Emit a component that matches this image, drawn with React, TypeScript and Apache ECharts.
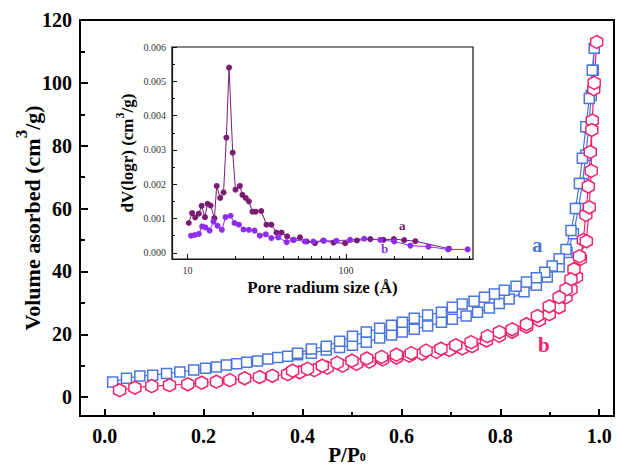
import React, { useEffect, useRef } from 'react';
import * as echarts from 'echarts';

const SERIF = '"Liberation Serif", "Times New Roman", serif';

// Main plot ticks
const mainXTicks = [0, 0.2, 0.4, 0.6, 0.8, 1.0];
const mainXMinor = [0.1, 0.3, 0.5, 0.7, 0.9];
const mainYTicks = [0, 20, 40, 60, 80, 100, 120];
const mainYMinor = [10, 30, 50, 70, 90, 110];

// Inset ticks
const insetYTicks = [0, 0.001, 0.002, 0.003, 0.004, 0.005, 0.006];
const insetYMinor = [0.0005, 0.0015, 0.0025, 0.0035, 0.0045, 0.0055];
const insetXMajor = [10, 100];
const insetXMinor = [20, 30, 40, 50, 60, 70, 80, 90, 200, 300, 400, 500, 600];

// Sample a (blue squares): adsorption then desorption branch
const blueAdsorption: [number, number][] = [
  [0.016, 4.8], [0.044, 6.0], [0.071, 6.7], [0.097, 7.0], [0.125, 7.5], [0.152, 8.0],
  [0.18, 8.6], [0.204, 9.2], [0.226, 9.6], [0.246, 10.2], [0.267, 10.6], [0.287, 11.1],
  [0.309, 11.5], [0.33, 12.1], [0.35, 12.6], [0.37, 13.0], [0.39, 13.5], [0.418, 14.0],
  [0.448, 15.0], [0.475, 15.8], [0.501, 16.5], [0.529, 17.5], [0.556, 18.8], [0.58, 19.8],
  [0.602, 20.7], [0.626, 21.6], [0.653, 22.6], [0.681, 23.8], [0.703, 24.8], [0.731, 25.8],
  [0.754, 27.0], [0.778, 28.4], [0.798, 29.8], [0.818, 31.2], [0.848, 33.5], [0.873, 35.6],
  [0.895, 38.2], [0.919, 41.5], [0.935, 46], [0.948, 52], [0.958, 60], [0.966, 68],
  [0.973, 77], [0.979, 86], [0.984, 96], [0.988, 104], [0.99, 111],
];
const blueDesorption: [number, number][] = [
  [0.986, 104], [0.98, 95], [0.973, 86], [0.966, 76], [0.96, 68], [0.952, 60], [0.943, 53],
  [0.933, 47], [0.919, 44], [0.905, 41.7], [0.89, 39.7], [0.873, 38.0], [0.853, 36.6],
  [0.832, 35.3], [0.808, 34.0], [0.788, 32.8], [0.768, 31.8], [0.747, 30.5], [0.723, 29.6],
  [0.703, 28.6], [0.681, 27.0], [0.653, 26.1], [0.626, 25.1], [0.602, 23.8], [0.58, 22.9],
  [0.556, 21.9], [0.529, 20.7], [0.501, 19.4], [0.475, 17.8], [0.448, 16.2], [0.418, 15.3],
  [0.39, 14.0],
];

// Sample b (pink hexagons)
const pinkAdsorption: [number, number][] = [
  [0.03, 2.2], [0.061, 3.0], [0.095, 3.5], [0.131, 3.8], [0.168, 4.1], [0.196, 4.6],
  [0.226, 4.9], [0.253, 5.4], [0.283, 6.0], [0.313, 6.4], [0.339, 6.8], [0.37, 7.3],
  [0.394, 7.9], [0.424, 8.6], [0.45, 9.4], [0.481, 10.0], [0.509, 10.6], [0.535, 11.3],
  [0.562, 12.0], [0.59, 12.6], [0.616, 13.2], [0.642, 13.8], [0.671, 14.4], [0.697, 15.0],
  [0.723, 15.5], [0.743, 16.2], [0.772, 18.0], [0.798, 19.5], [0.824, 20.8], [0.853, 22.4],
  [0.879, 24.5], [0.899, 26.4], [0.919, 28.6], [0.933, 31.8], [0.943, 34.3], [0.954, 38.2],
  [0.962, 44], [0.968, 50], [0.973, 58], [0.978, 67], [0.982, 78], [0.986, 88],
  [0.989, 98], [0.995, 113],
];
const pinkDesorption: [number, number][] = [
  [0.99, 100], [0.985, 85], [0.984, 72], [0.98, 60.4], [0.974, 49.6], [0.96, 44.8],
  [0.949, 40.7], [0.943, 37.5], [0.933, 34.3], [0.919, 31.8], [0.899, 28.9], [0.875, 25.8],
  [0.853, 23.2], [0.824, 21.6], [0.798, 20.7], [0.774, 19.4], [0.741, 17.5], [0.71, 16.5],
  [0.68, 15.4], [0.65, 14.8], [0.62, 14.0], [0.59, 13.5], [0.56, 12.8], [0.53, 12.3],
  [0.5, 11.6], [0.47, 10.9], [0.44, 10.0], [0.41, 9.0], [0.38, 8.4],
];

// Inset: pore size distribution
const poreA: [number, number][] = [
  [10.2, 0.00087], [10.7, 0.00116], [11.2, 0.00103], [11.8, 0.00114], [12.3, 0.00137],
  [12.9, 0.00104], [13.4, 0.00143], [14.0, 0.00138], [14.8, 0.00101], [15.3, 0.00195],
  [16.1, 0.0016], [16.9, 0.00176], [17.6, 0.00336], [18.3, 0.0054], [19.3, 0.00292],
  [20.1, 0.00184], [21.4, 0.00195], [22.2, 0.00169], [23.3, 0.0016], [24.4, 0.0015],
  [25.7, 0.0012], [26.9, 0.0012], [29.2, 0.00122], [31.5, 0.00082], [33.8, 0.00082],
  [36.4, 0.00059], [39.2, 0.00059], [42.5, 0.00048], [46.4, 0.00038], [51.2, 0.00045],
  [56.5, 0.00033], [63.6, 0.00028], [71.8, 0.00036], [83.3, 0.0003], [98.6, 0.00028],
  [117, 0.00036], [142, 0.0004], [172, 0.00038], [200, 0.0004], [232, 0.00037],
  [273, 0.00034], [444, 0.00012],
];
const poreB: [number, number][] = [
  [10.55, 0.0005], [11.1, 0.00052], [11.8, 0.00055], [12.4, 0.00077], [13.0, 0.00074],
  [13.8, 0.00065], [14.6, 0.00091], [15.5, 0.00079], [16.5, 0.00067], [17.4, 0.00104],
  [18.7, 0.00108], [19.8, 0.00087], [21.1, 0.00082], [22.6, 0.00068], [24.4, 0.00067],
  [26.5, 0.00065], [28.6, 0.0005], [31.2, 0.00054], [33.8, 0.00043], [37.4, 0.00045],
  [42.2, 0.00031], [46.9, 0.00038], [55, 0.00033], [62.1, 0.00033], [72.4, 0.00035],
  [87, 0.00035], [106, 0.00038], [130, 0.00041], [164, 0.00038], [201, 0.00033],
  [254, 0.00021], [330, 0.00018], [439, 0.0001], [583, 0.0001],
];

const BLUE = '#4a76dc';
const PINK = '#f2216f';
const PURPLE = '#7b1c74';
const VIOLET = '#8f2cf2';
const HEX = 'path://M0,-10 L8.66,-5 L8.66,5 L0,10 L-8.66,5 L-8.66,-5 Z';

export default function App() {
  const ref = useRef<HTMLDivElement>(null);

  useEffect(() => {
    if (!ref.current) return;
    const chart = echarts.init(ref.current, null, { renderer: 'svg' });

    const mainLabel = { fontFamily: SERIF, fontWeight: 'bold', fontSize: 20, color: '#000' };
    const insetLabel = { fontFamily: SERIF, fontSize: 10, color: '#333' };

    const option: any = {
      animation: false,
      backgroundColor: '#fff',
      grid: [
        { left: 80, top: 20, right: 4, bottom: 53, outerBoundsMode: 'none', containLabel: false, show: true, borderColor: '#000', borderWidth: 2, backgroundColor: 'transparent' },
        { left: 172, top: 47, right: 145, bottom: 210, outerBoundsMode: 'none', containLabel: false, show: true, borderColor: '#111', borderWidth: 1.2, backgroundColor: '#fff' },
      ],
      xAxis: [
        {
          type: 'value', gridIndex: 0, min: -0.05, max: 1.03,
          axisLine: { onZero: false, lineStyle: { color: '#000', width: 2 } },
          axisTick: { inside: true, length: 7, customValues: mainXTicks, lineStyle: { color: '#000', width: 2 } },
          axisLabel: { ...mainLabel, margin: 10, customValues: mainXTicks, formatter: (v: number) => v.toFixed(1) },
          splitLine: { show: false },
          name: '{t|P/P}{s|0}', nameLocation: 'middle', nameGap: 28, nameMoveOverlap: false,
          nameTextStyle: {
            rich: {
              t: { fontFamily: SERIF, fontWeight: 'bold', fontSize: 21, color: '#000', lineHeight: 19, verticalAlign: 'top' },
              s: { fontFamily: SERIF, fontWeight: 'bold', fontSize: 12, color: '#000', lineHeight: 11, verticalAlign: 'bottom' },
            },
          },
        },
        {
          type: 'value', gridIndex: 0, min: -0.05, max: 1.03, position: 'bottom',
          axisLine: { show: false, onZero: false },
          axisTick: { inside: true, length: 4, customValues: mainXMinor, lineStyle: { color: '#000', width: 2 } },
          axisLabel: { show: false }, splitLine: { show: false },
        },
        {
          type: 'log', logBase: 10, gridIndex: 1, min: 8, max: 630,
          axisLine: { onZero: false, lineStyle: { color: '#111', width: 1.2 } },
          axisTick: { inside: true, length: 5, customValues: insetXMajor, lineStyle: { color: '#111' } },
          axisLabel: { ...insetLabel, margin: 6, customValues: insetXMajor },
          splitLine: { show: false }, minorTick: { show: false },
          name: 'Pore radium size (Å)', nameLocation: 'middle', nameGap: 20, nameMoveOverlap: false,
          nameTextStyle: { fontFamily: SERIF, fontWeight: 'bold', fontSize: 17, color: '#000' },
        },
        {
          type: 'log', logBase: 10, gridIndex: 1, min: 8, max: 630, position: 'bottom',
          axisLine: { show: false, onZero: false },
          axisTick: { inside: true, length: 3, customValues: insetXMinor, lineStyle: { color: '#111' } },
          axisLabel: { show: false }, splitLine: { show: false },
        },
      ],
      yAxis: [
        {
          type: 'value', gridIndex: 0, min: -6, max: 120,
          axisLine: { onZero: false, lineStyle: { color: '#000', width: 2 } },
          axisTick: { inside: true, length: 8, customValues: mainYTicks, lineStyle: { color: '#000', width: 2 } },
          axisLabel: { ...mainLabel, margin: 8, customValues: mainYTicks },
          splitLine: { show: false },
          name: '{t|Volume asorbed (cm}{s|3}{t|/g)}', nameLocation: 'middle', nameGap: 37, nameRotate: 90, nameMoveOverlap: false,
          nameTextStyle: {
            rich: {
              t: { fontFamily: SERIF, fontWeight: 'bold', fontSize: 22, color: '#000', lineHeight: 30, verticalAlign: 'bottom' },
              s: { fontFamily: SERIF, fontWeight: 'bold', fontSize: 17, color: '#000', lineHeight: 18, verticalAlign: 'top' },
            },
          },
        },
        {
          type: 'value', gridIndex: 0, min: -6, max: 120, position: 'left',
          axisLine: { show: false, onZero: false },
          axisTick: { inside: true, length: 5, customValues: mainYMinor, lineStyle: { color: '#000', width: 2 } },
          axisLabel: { show: false }, splitLine: { show: false },
        },
        {
          type: 'value', gridIndex: 1, min: -0.00018, max: 0.006,
          axisLine: { onZero: false, lineStyle: { color: '#111', width: 1.2 } },
          axisTick: { inside: true, length: 5, customValues: insetYTicks, lineStyle: { color: '#111' } },
          axisLabel: { ...insetLabel, margin: 6, customValues: insetYTicks, formatter: (v: number) => v.toFixed(3) },
          splitLine: { show: false },
          name: '{t|dV(logr) (cm}{s|3}{t|/g)}', nameLocation: 'middle', nameGap: 36, nameRotate: 90, nameMoveOverlap: false,
          nameTextStyle: {
            rich: {
              t: { fontFamily: SERIF, fontWeight: 'bold', fontSize: 17, color: '#000', lineHeight: 22, verticalAlign: 'bottom' },
              s: { fontFamily: SERIF, fontWeight: 'bold', fontSize: 12, color: '#000', lineHeight: 13, verticalAlign: 'top' },
            },
          },
        },
        {
          type: 'value', gridIndex: 1, min: -0.00018, max: 0.006, position: 'left',
          axisLine: { show: false, onZero: false },
          axisTick: { inside: true, length: 3, customValues: insetYMinor, lineStyle: { color: '#111' } },
          axisLabel: { show: false }, splitLine: { show: false },
        },
      ],
      series: [
        {
          type: 'line', name: 'a', xAxisIndex: 0, yAxisIndex: 0,
          data: [...blueAdsorption, ...blueDesorption],
          symbol: 'rect', symbolSize: 10,
          itemStyle: { color: '#fff', borderColor: BLUE, borderWidth: 1.5 },
          lineStyle: { color: BLUE, width: 1.2 },
        },
        {
          type: 'line', name: 'b', xAxisIndex: 0, yAxisIndex: 0,
          data: [...pinkAdsorption, ...pinkDesorption],
          symbol: HEX, symbolSize: [12, 13],
          itemStyle: { color: '#fff', borderColor: PINK, borderWidth: 1.5 },
          lineStyle: { color: PINK, width: 1.2 },
        },
        {
          type: 'line', name: 'pore a', xAxisIndex: 2, yAxisIndex: 2, data: poreA,
          symbol: 'circle', symbolSize: 6,
          itemStyle: { color: PURPLE }, lineStyle: { color: PURPLE, width: 1 },
        },
        {
          type: 'line', name: 'pore b', xAxisIndex: 2, yAxisIndex: 2, data: poreB,
          symbol: 'circle', symbolSize: 6,
          itemStyle: { color: VIOLET }, lineStyle: { color: VIOLET, width: 1 },
        },
      ],
      graphic: [
        { type: 'text', left: 532, top: 234, style: { text: 'a', fill: BLUE, font: `bold 21px ${SERIF}` } },
        { type: 'text', left: 538, top: 334, style: { text: 'b', fill: PINK, font: `bold 21px ${SERIF}` } },
        { type: 'text', left: 399, top: 219, style: { text: 'a', fill: PURPLE, font: `bold 13px ${SERIF}` } },
        { type: 'text', left: 381, top: 242, style: { text: 'b', fill: VIOLET, font: `bold 13px ${SERIF}` } },
      ],
    };

    chart.setOption(option);
    return () => chart.dispose();
  }, []);

  return (
    <div
      ref={ref}
      style={{ position: 'fixed', left: 0, top: 0, width: 618, height: 469 }}
    />
  );
}
